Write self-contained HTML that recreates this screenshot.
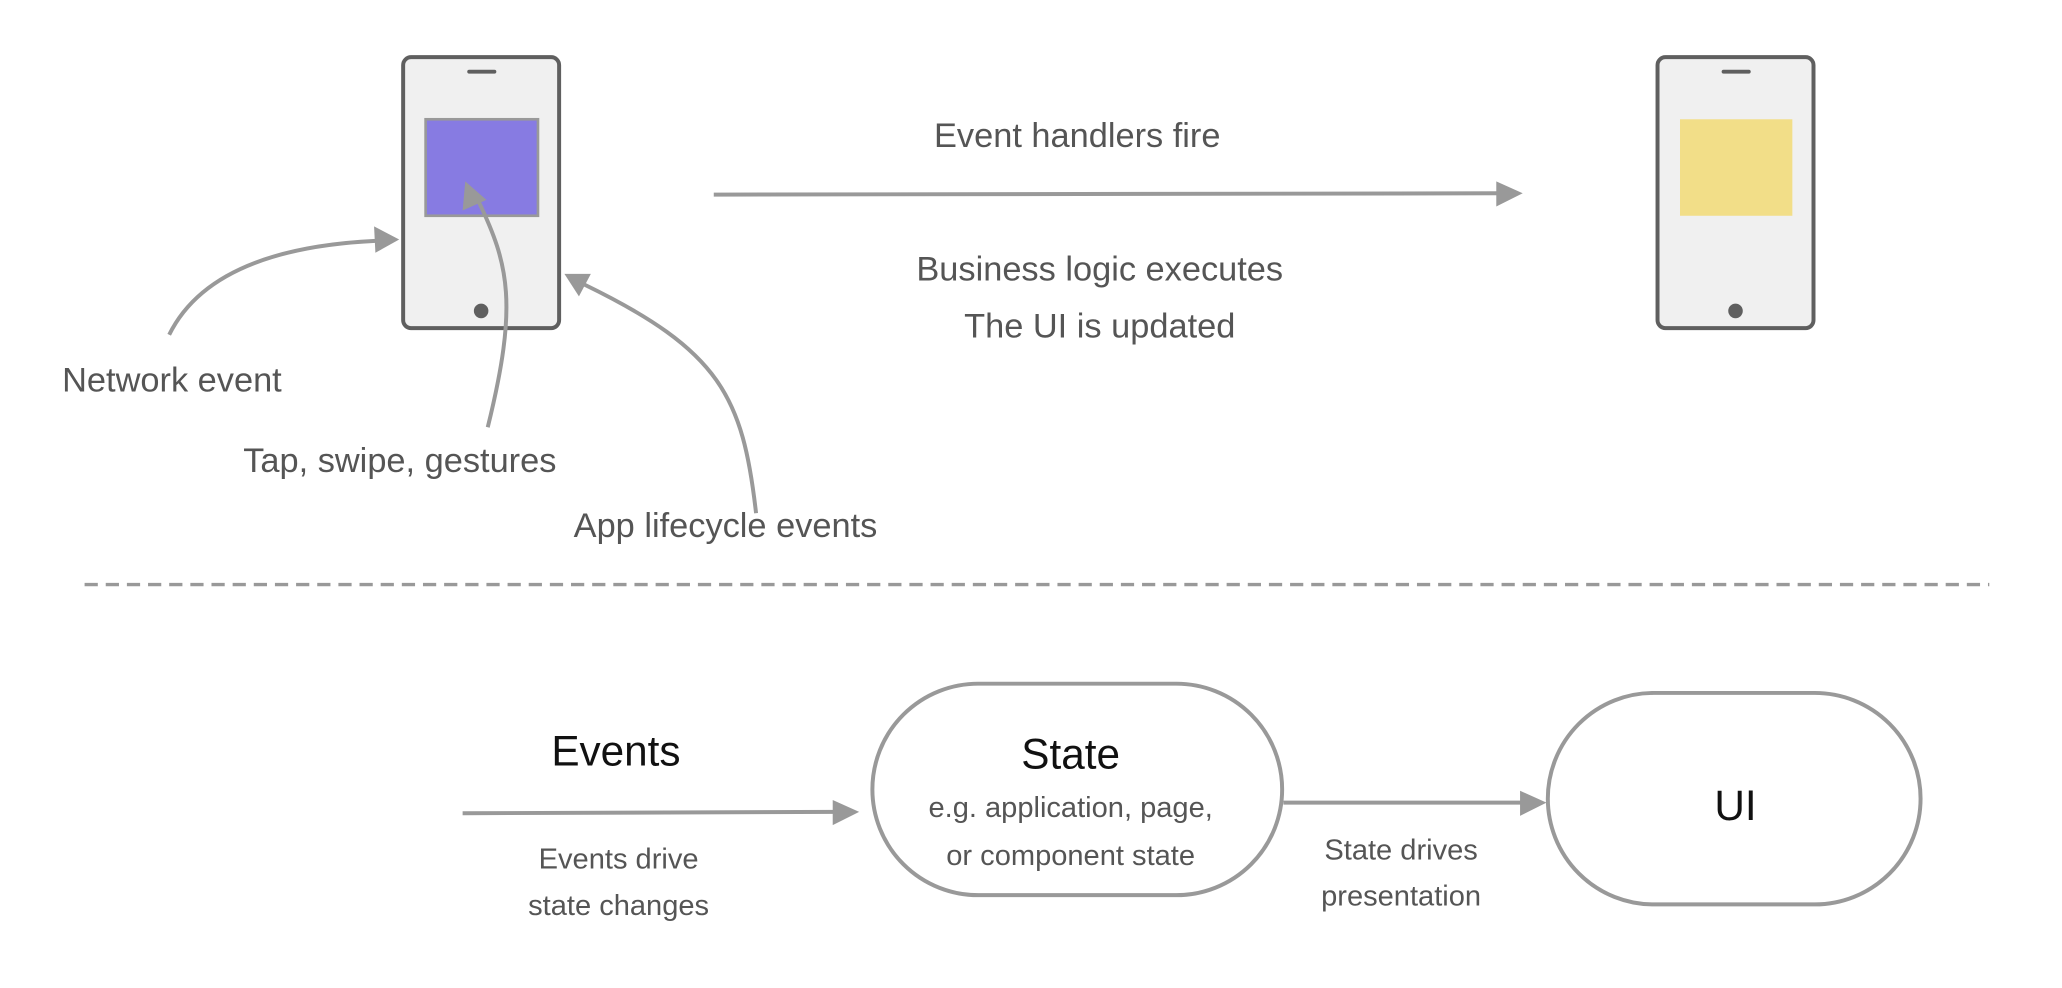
<!DOCTYPE html>
<html><head><meta charset="utf-8"><style>
html,body{margin:0;padding:0;background:#fff;}
svg{display:block;}
text{font-family:"Liberation Sans",sans-serif;}
</style></head><body>
<svg width="2062" height="988" viewBox="0 0 1560 747" xmlns="http://www.w3.org/2000/svg">
<defs>
<marker id="ah" markerWidth="10" markerHeight="10" refX="2" refY="5" orient="auto" markerUnits="userSpaceOnUse" viewBox="0 0 10 10">
</marker>
</defs>
<!-- Phone 1 -->
<rect x="305" y="43" width="118" height="205" rx="6" fill="#f0f0f0" stroke="#5f5f5f" stroke-width="3"/>
<line x1="355" y1="54" x2="374" y2="54" stroke="#5f5f5f" stroke-width="3" stroke-linecap="round"/>
<rect x="322" y="90" width="85" height="73" fill="#877be2" stroke="#999" stroke-width="2"/>
<circle cx="364" cy="235" r="5.5" fill="#5f5f5f"/>
<!-- Phone 2 -->
<rect x="1254" y="43" width="118" height="205" rx="6" fill="#f0f0f0" stroke="#5f5f5f" stroke-width="3"/>
<line x1="1304" y1="54" x2="1323" y2="54" stroke="#5f5f5f" stroke-width="3" stroke-linecap="round"/>
<rect x="1271" y="90" width="85" height="73" fill="#f2de88"/>
<circle cx="1313" cy="235" r="5.5" fill="#5f5f5f"/>
<!-- main arrow -->
<line x1="540" y1="147" x2="1134" y2="146" stroke="#999" stroke-width="3"/>
<polygon points="1152,146 1132,137 1132,156" fill="#999"/>
<text x="815" y="111" font-size="26" fill="#555" text-anchor="middle">Event handlers fire</text>
<text x="832" y="212" font-size="26" fill="#555" text-anchor="middle">Business logic executes</text>
<text x="832" y="255" font-size="26" fill="#555" text-anchor="middle">The UI is updated</text>
<!-- curves -->
<path d="M128,253 Q160,188 284,182" fill="none" stroke="#999" stroke-width="3"/>
<polygon points="302,181 283,171 284,191" fill="#999"/>
<path d="M369,323 C392,230 385,200 362,152" fill="none" stroke="#999" stroke-width="3"/>
<polygon points="352,137 350,159 368,151" fill="#999"/>
<path d="M572,388 C562,300 545,265 442,215" fill="none" stroke="#999" stroke-width="3"/>
<polygon points="427,207 447,207 438,224" fill="#999"/>
<text x="47" y="296" font-size="26" fill="#555">Network event</text>
<text x="184" y="357" font-size="26" fill="#555">Tap, swipe, gestures</text>
<text x="434" y="406" font-size="26" fill="#555">App lifecycle events</text>
<!-- dashed -->
<line x1="64" y1="442" x2="1505" y2="442" stroke="#999" stroke-width="2.5" stroke-dasharray="10,6"/>
<!-- bottom -->
<text x="466" y="579" font-size="32" fill="#111" text-anchor="middle">Events</text>
<line x1="350" y1="615" x2="632" y2="614" stroke="#999" stroke-width="3"/>
<polygon points="650,614 630,605 630,624" fill="#999"/>
<text x="468" y="657" font-size="22" fill="#555" text-anchor="middle">Events drive</text>
<text x="468" y="692" font-size="22" fill="#555" text-anchor="middle">state changes</text>
<rect x="660" y="517" width="310" height="160" rx="80" fill="#fff" stroke="#999" stroke-width="3"/>
<text x="810" y="581" font-size="32" fill="#111" text-anchor="middle">State</text>
<text x="810" y="618" font-size="22" fill="#555" text-anchor="middle">e.g. application, page,</text>
<text x="810" y="654" font-size="22" fill="#555" text-anchor="middle">or component state</text>
<line x1="971" y1="607" x2="1152" y2="607" stroke="#999" stroke-width="3"/>
<polygon points="1170,607 1150,598 1150,617" fill="#999"/>
<text x="1060" y="650" font-size="22" fill="#555" text-anchor="middle">State drives</text>
<text x="1060" y="685" font-size="22" fill="#555" text-anchor="middle">presentation</text>
<rect x="1171" y="524" width="282" height="160" rx="80" fill="#fff" stroke="#999" stroke-width="3"/>
<text x="1313" y="620" font-size="32" fill="#111" text-anchor="middle">UI</text>
</svg>
</body></html>
